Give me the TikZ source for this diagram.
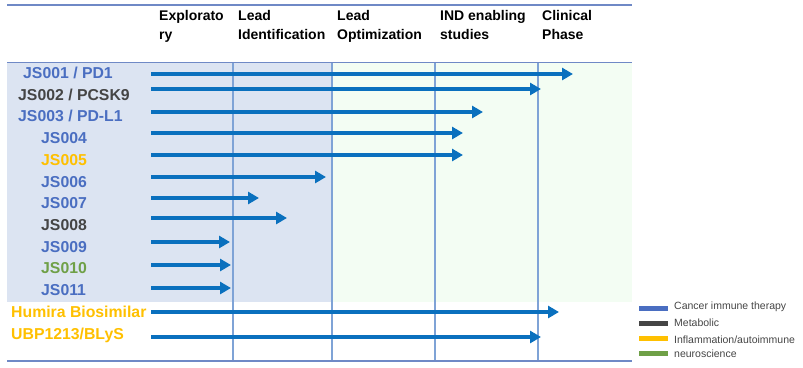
\documentclass[tikz,border=0pt]{standalone}
\usepackage{fontspec}
\setmainfont{Liberation Sans}
\usetikzlibrary{arrows.meta}

\definecolor{barblue}{HTML}{0A70BE}
\definecolor{lineblue}{HTML}{6F89C6}
\definecolor{gridblue}{HTML}{7FA3D6}
\definecolor{cblue}{HTML}{4A6EC1}
\definecolor{cgray}{HTML}{454545}
\definecolor{cyellow}{HTML}{FFC000}
\definecolor{cgreen}{HTML}{6FA047}
\definecolor{bgblue}{HTML}{DCE4F2}
\definecolor{bggreen}{HTML}{F3FDF3}

\tikzset{
  hdr/.style={anchor=north west,inner sep=0pt,align=left,font=\fontsize{14}{19.5}\selectfont\bfseries},
  lbl/.style={anchor=west,inner sep=0pt,font=\fontsize{15.8}{18}\selectfont\bfseries},
  bar/.style={line width=4pt,barblue,-{Triangle[length=11pt,width=12pt]}},
  lg/.style={anchor=west,inner sep=0pt,text=cgray,font=\fontsize{10.5}{12}\selectfont},
}

\begin{document}
\begin{tikzpicture}[x=1pt,y=-1pt]
\useasboundingbox (0,0) rectangle (803,367);
% shading
\fill[bgblue] (7,62) rectangle (332,302);
\fill[bggreen] (332,62) rectangle (632,302);
% grid
\foreach \x in {233,332,435,538} \draw[gridblue,line width=1.1pt] (\x,62) -- (\x,361);
\draw[lineblue,line width=1pt] (7,62) -- (632,62);
\draw[lineblue,line width=2pt] (7,5) -- (632,5);
\draw[lineblue,line width=2pt] (7,361) -- (632,361);

% phases
\node[hdr] (expl) at (159,10) {Explorato\\ry};
\node[hdr] (leadid) at (238,10) {Lead\\Identification};
\node[hdr] (leadopt) at (337,10) {Lead\\Optimization};
\node[hdr] (ind) at (440,10) {IND enabling\\studies};
\node[hdr] (clin) at (542,10) {Clinical\\Phase};

% projects
\node[lbl,cblue] (js001) at (23,73) {JS001 / PD1};
\node[lbl,cgray] (js002) at (18,95) {JS002 / PCSK9};
\node[lbl,cblue] (js003) at (18,116) {JS003 / PD-L1};
\node[lbl,cblue] (js004) at (41,138) {JS004};
\node[lbl,cyellow] (js005) at (41,160) {JS005};
\node[lbl,cblue] (js006) at (41,182) {JS006};
\node[lbl,cblue] (js007) at (41,203) {JS007};
\node[lbl,cgray] (js008) at (41,225) {JS008};
\node[lbl,cblue] (js009) at (41,247) {JS009};
\node[lbl,cgreen] (js010) at (41,268) {JS010};
\node[lbl,cblue] (js011) at (41,290) {JS011};
\node[lbl,cyellow] (humira) at (11,312) {Humira Biosimilar};
\node[lbl,cyellow] (ubp) at (11,335) {UBP1213/BLyS};

% progress bars
\foreach \y/\e [count=\i] in {74/573,89/541,112/483,133/463,155/463,177/326,198/259,218/287,242/230,265/231,288/231,312/559,337/541}{
  \coordinate (s\i) at (151,\y);
  \coordinate (e\i) at (\e,\y);
  \draw[bar] (s\i) -- (e\i);
}

% legend
\foreach \y/\c in {308/cblue,323/cgray,338/cyellow,353/cgreen}
  \draw[\c,line width=5pt] (639,\y) -- (668,\y);
\node[lg] (lgcancer) at (674,307) {Cancer immune therapy};
\node[lg] (lgmeta) at (674,323) {Metabolic};
\node[lg] (lginfl) at (674,340) {Inflammation/autoimmune};
\node[lg] (lgneuro) at (674,354) {neuroscience};
\end{tikzpicture}
\end{document}
